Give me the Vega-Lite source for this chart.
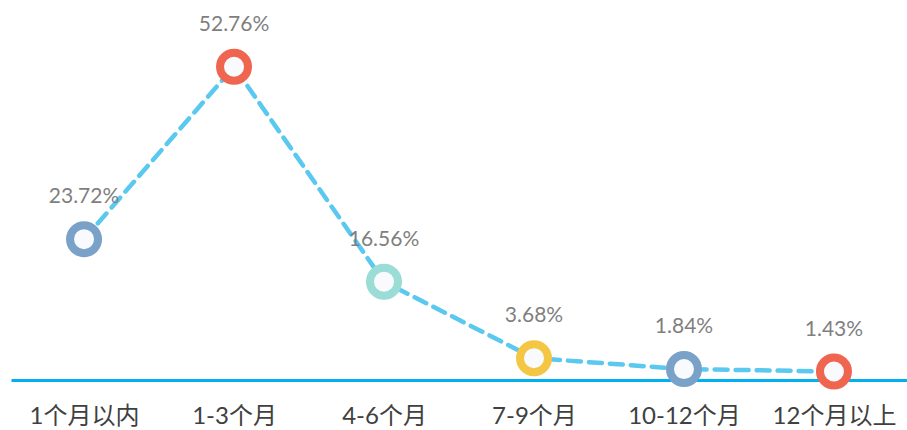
{
  "$schema": "https://vega.github.io/schema/vega-lite/v6.json",
  "width": 896,
  "height": 380,
  "autosize": {"type": "none"},
  "padding": {"left": 11, "top": 0, "right": 0, "bottom": 50},
  "background": "white",
  "config": {"view": {"stroke": null}},
  "data": {"values": [
    {"cat": "1个月以内", "value": 0.2372},
    {"cat": "1-3个月", "value": 0.5276},
    {"cat": "4-6个月", "value": 0.1656},
    {"cat": "7-9个月", "value": 0.0368},
    {"cat": "10-12个月", "value": 0.0184},
    {"cat": "12个月以上", "value": 0.0143}
  ]},
  "encoding": {
    "x": {"field": "cat", "type": "ordinal", "sort": null,
      "scale": {"type": "point", "padding": 0.487},
      "axis": {"title": null, "domain": true, "domainColor": "#00b0f0", "domainWidth": 3, "ticks": false,
        "labelAngle": 0, "labelFont": "Lato, Noto Sans CJK SC", "labelFontSize": 24, "labelColor": "#404040", "labelPadding": 24}},
    "y": {"field": "value", "type": "quantitative", "scale": {"domain": [0, 0.64], "nice": false}, "axis": null}
  },
  "layer": [
    {"mark": {"type": "line", "color": "#5bc8f0", "strokeWidth": 4.5, "strokeDash": [13, 8], "strokeCap": "round"}},
    {"mark": {"type": "point", "shape": "circle", "filled": false, "fill": "#f8fafd", "fillOpacity": 1, "size": 784, "strokeWidth": 8, "opacity": 1},
      "encoding": {"stroke": {"field": "cat", "type": "nominal", "sort": null,
        "scale": {"domain": ["1个月以内", "1-3个月", "4-6个月", "7-9个月", "10-12个月", "12个月以上"],
                  "range": ["#7aa1c8", "#f0654f", "#9adcd6", "#f4c643", "#7aa1c8", "#f0654f"]}, "legend": null}}},
    {"mark": {"type": "text", "dy": -42, "font": "Lato", "fontSize": 21, "color": "#7f7f7f"},
      "encoding": {"text": {"field": "value", "type": "quantitative", "format": ".2%"}}}
  ]
}
